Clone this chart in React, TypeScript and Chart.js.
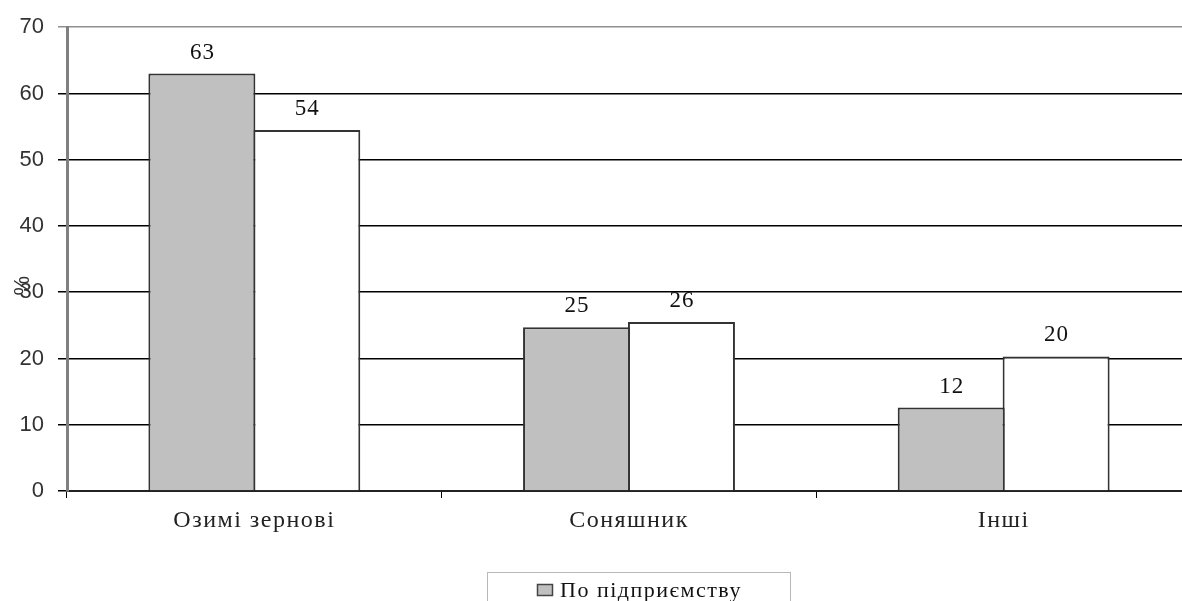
import React, { useEffect, useRef } from "react";
import { Chart, registerables } from "chart.js";

Chart.register(...registerables);

const categories = ["Озимі зернові", "Соняшник", "Інші"];
const seriesNames = ["По підприємству", "По району"];
const enterpriseValues = [63, 24.7, 12.6];
const districtValues = [54.5, 25.5, 20.3];
const enterpriseLabels = ["63", "25", "12"];
const districtLabels = ["54", "26", "20"];
const yMin = 0;
const yMax = 70;
const yStep = 10;
const yTitle = "%";

const W = 1182;
const H = 601;
const CANVAS_W = 1191;

export default function App() {
  const ref = useRef<HTMLCanvasElement | null>(null);

  useEffect(() => {
    document.body.style.margin = "0";
    const canvas = ref.current;
    if (!canvas) return;
    const labelSets = [enterpriseLabels, districtLabels];
    const fills = ["#c0c0c0", "#ffffff"];

    const spacingPlugin = {
      id: "spacing",
      beforeDraw(chart: any) {
        (chart.ctx as any).letterSpacing = "0px";
      },
      afterDatasetsDraw(chart: any) {
        (chart.ctx as any).letterSpacing = "1.5px";
      },
      afterDraw(chart: any) {
        (chart.ctx as any).letterSpacing = "0px";
      },
    };

    const dataLabelPlugin = {
      id: "dataLabels",
      afterDatasetsDraw(chart: any) {
        const ctx = chart.ctx;
        ctx.save();
        (ctx as any).letterSpacing = "1px";
        ctx.font = "23px 'Liberation Serif', serif";
        ctx.fillStyle = "#111";
        ctx.textAlign = "center";
        ctx.textBaseline = "alphabetic";
        chart.data.datasets.forEach((_ds: any, i: number) => {
          const meta = chart.getDatasetMeta(i);
          meta.data.forEach((bar: any, j: number) => {
            ctx.fillText(labelSets[i][j], bar.x + 0.5, bar.y - 15);
          });
        });
        ctx.restore();
      },
    };

    const extrasPlugin = {
      id: "extras",
      afterDraw(chart: any) {
        const ctx = chart.ctx;
        const ys = chart.scales.y;
        ctx.save();
        (ctx as any).letterSpacing = "0px";
        ctx.translate(23, ys.getPixelForValue(31));
        ctx.rotate(-Math.PI / 2);
        ctx.font = "22px 'Liberation Sans', sans-serif";
        ctx.fillStyle = "#333";
        ctx.textAlign = "center";
        ctx.textBaseline = "middle";
        ctx.fillText(yTitle, 0, 0);
        ctx.restore();

        // legend
        ctx.save();
        const boxL = 487;
        const boxT = chart.chartArea.bottom + 81;
        const boxW = 303;
        const boxH = 64;
        ctx.strokeStyle = "#b8b8b8";
        ctx.lineWidth = 1;
        ctx.strokeRect(boxL + 0.5, boxT + 0.5, boxW, boxH);
        (ctx as any).letterSpacing = "1.5px";
        ctx.font = "22px 'Liberation Serif', serif";
        ctx.textBaseline = "middle";
        ctx.textAlign = "left";
        chart.data.datasets.forEach((ds: any, i: number) => {
          const cy = boxT + 19 + i * 26;
          ctx.fillStyle = fills[i];
          ctx.strokeStyle = "#444";
          ctx.lineWidth = 1.5;
          ctx.beginPath();
          ctx.rect(537.5, cy - 6.5, 15, 11);
          ctx.fill();
          ctx.stroke();
          ctx.fillStyle = "#111";
          ctx.fillText(ds.label, 560, cy);
        });
        ctx.restore();
      },
    };

    const chart = new Chart(canvas, {
      type: "bar",
      data: {
        labels: categories,
        datasets: [
          {
            label: seriesNames[0],
            data: enterpriseValues,
            backgroundColor: fills[0],
            borderColor: "#333",
            borderWidth: 2,
            barPercentage: 1.02,
            categoryPercentage: 0.56,
          },
          {
            label: seriesNames[1],
            data: districtValues,
            backgroundColor: fills[1],
            borderColor: "#333",
            borderWidth: 2,
            barPercentage: 1.02,
            categoryPercentage: 0.56,
          },
        ],
      },
      options: {
        responsive: false,
        animation: false,
        devicePixelRatio: 1,
        layout: { padding: { top: 23, right: 0, bottom: 60, left: 0 } },
        plugins: {
          legend: { display: false },
          tooltip: { enabled: false },
        },
        scales: {
          x: {
            afterFit(scale: any) {
              scale.height = 50;
            },
            grid: {
              display: true,
              drawOnChartArea: false,
              drawTicks: true,
              tickLength: 7,
              color: "#000",
              lineWidth: 1,
              offset: true,
            },
            border: { display: true, color: "#222", width: 2 },
            ticks: {
              z: 1,
              padding: 8,
              color: "#222",
              font: { family: "'Liberation Serif', serif", size: 24 },
            },
          },
          y: {
            min: yMin,
            max: yMax,
            afterFit(scale: any) {
              scale.width = 67;
            },
            grid: {
              color: (c: any) => (c.tick && c.tick.value === yMax ? "#909090" : "#000"),
              lineWidth: 1.5,
              tickLength: 9,
            },
            border: { display: true, color: "#808080", width: 3 },
            ticks: {
              stepSize: yStep,
              padding: 14,
              color: "#333",
              font: { family: "'Liberation Sans', sans-serif", size: 22 },
            },
          },
        },
      },
      plugins: [spacingPlugin, dataLabelPlugin, extrasPlugin],
    });
    return () => chart.destroy();
  }, []);

  return (
    <div style={{ width: W, height: H, overflow: "hidden", background: "#fff" }}>
      <canvas ref={ref} width={CANVAS_W} height={H} style={{ display: "block" }} />
    </div>
  );
}
